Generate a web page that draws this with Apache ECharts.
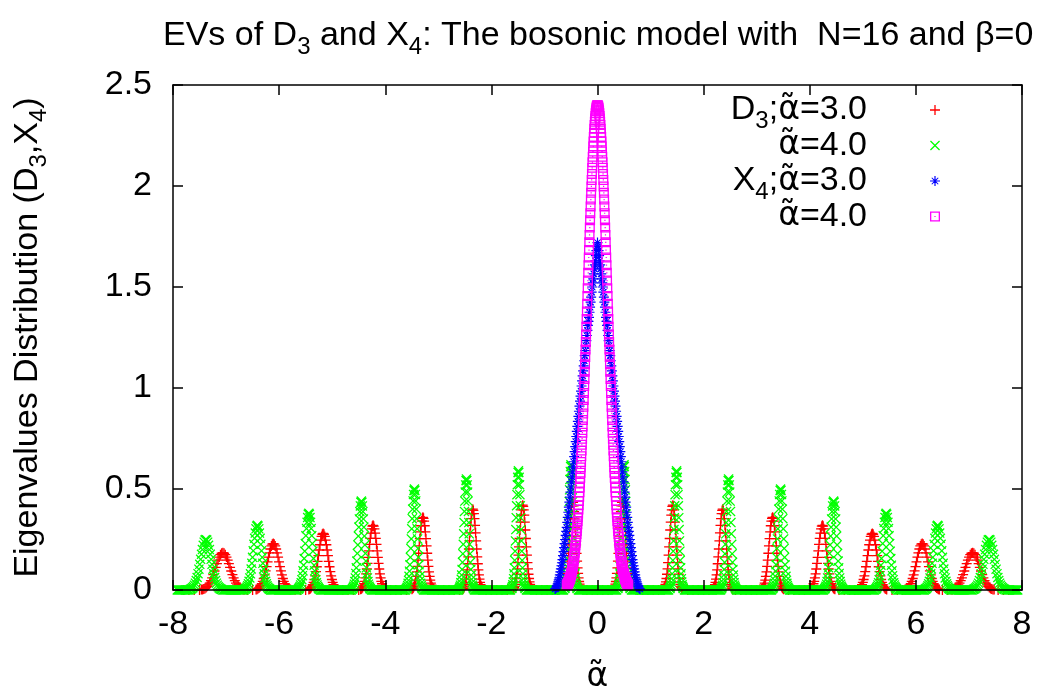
<!DOCTYPE html>
<html>
<head>
<meta charset="utf-8">
<script src="https://cdn.jsdelivr.net/npm/echarts@6/dist/echarts.min.js"></script>
<style>
html,body{margin:0;padding:0;background:#ffffff;}
#chart{width:1049px;height:696px;}
</style>
</head>
<body>
<div id="chart"></div>
<script>
// ---------- axis ticks ----------
const xTickValues = [-8, -6, -4, -2, 0, 2, 4, 6, 8];
const xTickLabels = ['-8', '-6', '-4', '-2', '0', '2', '4', '6', '8'];
const yTickValues = [0, 0.5, 1, 1.5, 2, 2.5];
const yTickLabels = ['0', '0.5', '1', '1.5', '2', '2.5'];

// ---------- series names ----------
const seriesNames = ['D3;a3', 'D3;a4', 'X4;a3', 'X4;a4'];

// ---------- D3, alpha~=3.0 (red +) : peaks [first x, x step, y values] ----------
const d3a3Peaks = [
  [-7.465, 0.0225, [0.002,0.003,0.005,0.008,0.012,0.018,0.025,0.034,0.046,0.060,0.076,0.094,0.112,0.131,0.148,0.163,0.175,0.182,0.185,0.182,0.175,0.163,0.148,0.131,0.112,0.094,0.076,0.060,0.046,0.034,0.025,0.018,0.012,0.008,0.005,0.003,0.002]],
  [-6.434, 0.018, [0.003,0.004,0.007,0.010,0.015,0.022,0.031,0.043,0.057,0.075,0.095,0.116,0.139,0.163,0.184,0.203,0.218,0.227,0.230,0.227,0.218,0.203,0.184,0.163,0.139,0.116,0.095,0.075,0.057,0.043,0.031,0.022,0.015,0.010,0.007,0.004,0.003]],
  [-5.440, 0.015, [0.003,0.005,0.008,0.012,0.018,0.027,0.038,0.052,0.070,0.091,0.115,0.142,0.170,0.198,0.224,0.247,0.265,0.276,0.280,0.276,0.265,0.247,0.224,0.198,0.170,0.142,0.115,0.091,0.070,0.052,0.038,0.027,0.018,0.012,0.008,0.005,0.003]],
  [-4.464, 0.013, [0.004,0.006,0.009,0.014,0.021,0.031,0.043,0.060,0.080,0.104,0.132,0.162,0.194,0.226,0.256,0.282,0.303,0.316,0.320,0.316,0.303,0.282,0.256,0.226,0.194,0.162,0.132,0.104,0.080,0.060,0.043,0.031,0.021,0.014,0.009,0.006,0.004]],
  [-3.497, 0.0115, [0.004,0.007,0.010,0.016,0.024,0.034,0.049,0.067,0.090,0.117,0.148,0.182,0.218,0.254,0.288,0.318,0.341,0.355,0.360,0.355,0.341,0.318,0.288,0.254,0.218,0.182,0.148,0.117,0.090,0.067,0.049,0.034,0.024,0.016,0.010,0.007,0.004]],
  [-2.539, 0.0105, [0.004,0.007,0.011,0.018,0.026,0.038,0.054,0.075,0.100,0.130,0.164,0.203,0.243,0.283,0.320,0.353,0.378,0.394,0.400,0.394,0.378,0.353,0.320,0.283,0.243,0.203,0.164,0.130,0.100,0.075,0.054,0.038,0.026,0.018,0.011,0.007,0.004]],
  [-1.590, 0.010, [0.005,0.008,0.012,0.018,0.028,0.040,0.057,0.078,0.105,0.136,0.173,0.213,0.255,0.297,0.336,0.371,0.397,0.414,0.420,0.414,0.397,0.371,0.336,0.297,0.255,0.213,0.173,0.136,0.105,0.078,0.057,0.040,0.028,0.018,0.012,0.008,0.005]],
  [-0.641, 0.0095, [0.005,0.008,0.013,0.019,0.029,0.042,0.060,0.082,0.110,0.143,0.181,0.223,0.267,0.311,0.352,0.388,0.416,0.434,0.440,0.434,0.416,0.388,0.352,0.311,0.267,0.223,0.181,0.143,0.110,0.082,0.060,0.042,0.029,0.019,0.013,0.008,0.005]],
  [0.299, 0.0095, [0.005,0.008,0.013,0.019,0.029,0.042,0.060,0.082,0.110,0.143,0.181,0.223,0.267,0.311,0.352,0.388,0.416,0.434,0.440,0.434,0.416,0.388,0.352,0.311,0.267,0.223,0.181,0.143,0.110,0.082,0.060,0.042,0.029,0.019,0.013,0.008,0.005]],
  [1.240, 0.010, [0.005,0.008,0.012,0.018,0.028,0.040,0.057,0.078,0.105,0.136,0.173,0.213,0.255,0.297,0.336,0.371,0.397,0.414,0.420,0.414,0.397,0.371,0.336,0.297,0.255,0.213,0.173,0.136,0.105,0.078,0.057,0.040,0.028,0.018,0.012,0.008,0.005]],
  [2.171, 0.0105, [0.004,0.007,0.011,0.018,0.026,0.038,0.054,0.075,0.100,0.130,0.164,0.203,0.243,0.283,0.320,0.353,0.378,0.394,0.400,0.394,0.378,0.353,0.320,0.283,0.243,0.203,0.164,0.130,0.100,0.075,0.054,0.038,0.026,0.018,0.011,0.007,0.004]],
  [3.093, 0.0115, [0.004,0.007,0.010,0.016,0.024,0.034,0.049,0.067,0.090,0.117,0.148,0.182,0.218,0.254,0.288,0.318,0.341,0.355,0.360,0.355,0.341,0.318,0.288,0.254,0.218,0.182,0.148,0.117,0.090,0.067,0.049,0.034,0.024,0.016,0.010,0.007,0.004]],
  [4.006, 0.013, [0.004,0.006,0.009,0.014,0.021,0.031,0.043,0.060,0.080,0.104,0.132,0.162,0.194,0.226,0.256,0.282,0.303,0.316,0.320,0.316,0.303,0.282,0.256,0.226,0.194,0.162,0.132,0.104,0.080,0.060,0.043,0.031,0.021,0.014,0.009,0.006,0.004]],
  [4.910, 0.015, [0.003,0.005,0.008,0.012,0.018,0.027,0.038,0.052,0.070,0.091,0.115,0.142,0.170,0.198,0.224,0.247,0.265,0.276,0.280,0.276,0.265,0.247,0.224,0.198,0.170,0.142,0.115,0.091,0.070,0.052,0.038,0.027,0.018,0.012,0.008,0.005,0.003]],
  [5.796, 0.018, [0.003,0.004,0.007,0.010,0.015,0.022,0.031,0.043,0.057,0.075,0.095,0.116,0.139,0.163,0.184,0.203,0.218,0.227,0.230,0.227,0.218,0.203,0.184,0.163,0.139,0.116,0.095,0.075,0.057,0.043,0.031,0.022,0.015,0.010,0.007,0.004,0.003]],
  [6.665, 0.0225, [0.002,0.003,0.005,0.008,0.012,0.018,0.025,0.034,0.046,0.060,0.076,0.094,0.112,0.131,0.148,0.163,0.175,0.182,0.185,0.182,0.175,0.163,0.148,0.131,0.112,0.094,0.076,0.060,0.046,0.034,0.025,0.018,0.012,0.008,0.005,0.003,0.002]]
];
// x positions where D3 (alpha~=3.0) is zero between the peaks
const d3a3ZeroX = [-7.8,-7.7,-7.6,-7.5,-6.6,-6.5,-5.7,-5.6,-5.5,-4.8,-4.7,-4.6,-4.5,-3.9,-3.8,-3.7,-3.6,
  -3.0,-2.9,-2.8,-2.7,-2.6,-2.1,-2.0,-1.9,-1.8,-1.7,-1.15,-1.05,-0.95,-0.85,-0.75,-0.2,-0.1,0,0.1,0.2,
  0.75,0.85,0.95,1.05,1.15,1.7,1.8,1.9,2.0,2.1,2.6,2.7,2.8,2.9,3.0,3.6,3.7,3.8,3.9,4.55,4.65,4.75,4.85,
  5.55,5.65,5.75,6.5,6.6,7.55,7.65,7.75];

// ---------- D3, alpha~=4.0 (green x) ----------
const d3a4Peaks = [
  [-7.677, 0.0165, [0.003,0.005,0.007,0.011,0.016,0.024,0.034,0.047,0.062,0.081,0.103,0.127,0.152,0.177,0.200,0.221,0.237,0.247,0.250,0.247,0.237,0.221,0.200,0.177,0.152,0.127,0.103,0.081,0.062,0.047,0.034,0.024,0.016,0.011,0.007,0.005,0.003]],
  [-6.644, 0.013, [0.004,0.006,0.009,0.014,0.021,0.031,0.043,0.060,0.080,0.104,0.132,0.162,0.194,0.226,0.256,0.282,0.303,0.316,0.320,0.316,0.303,0.282,0.256,0.226,0.194,0.162,0.132,0.104,0.080,0.060,0.043,0.031,0.021,0.014,0.009,0.006,0.004]],
  [-5.638, 0.011, [0.004,0.007,0.011,0.017,0.025,0.036,0.051,0.071,0.095,0.123,0.156,0.192,0.230,0.269,0.304,0.335,0.359,0.375,0.380,0.375,0.359,0.335,0.304,0.269,0.230,0.192,0.156,0.123,0.095,0.071,0.051,0.036,0.025,0.017,0.011,0.007,0.004]],
  [-4.621, 0.0095, [0.005,0.008,0.013,0.019,0.029,0.042,0.060,0.082,0.110,0.143,0.181,0.223,0.267,0.311,0.352,0.388,0.416,0.434,0.440,0.434,0.416,0.388,0.352,0.311,0.267,0.223,0.181,0.143,0.110,0.082,0.060,0.042,0.029,0.019,0.013,0.008,0.005]],
  [-3.603, 0.0085, [0.006,0.009,0.014,0.022,0.033,0.048,0.068,0.093,0.125,0.162,0.206,0.253,0.303,0.353,0.400,0.441,0.473,0.493,0.500,0.493,0.473,0.441,0.400,0.353,0.303,0.253,0.206,0.162,0.125,0.093,0.068,0.048,0.033,0.022,0.014,0.009,0.006]],
  [-2.605, 0.0075, [0.006,0.010,0.016,0.024,0.036,0.053,0.074,0.102,0.137,0.179,0.226,0.278,0.334,0.389,0.440,0.485,0.520,0.542,0.550,0.542,0.520,0.485,0.440,0.389,0.334,0.278,0.226,0.179,0.137,0.102,0.074,0.053,0.036,0.024,0.016,0.010,0.006]],
  [-1.616, 0.007, [0.007,0.011,0.017,0.026,0.039,0.056,0.080,0.110,0.147,0.192,0.243,0.299,0.358,0.417,0.472,0.521,0.558,0.582,0.590,0.582,0.558,0.521,0.472,0.417,0.358,0.299,0.243,0.192,0.147,0.110,0.080,0.056,0.039,0.026,0.017,0.011,0.007]],
  [-0.617, 0.0065, [0.007,0.011,0.018,0.027,0.041,0.059,0.084,0.116,0.155,0.201,0.255,0.314,0.376,0.438,0.496,0.547,0.587,0.611,0.620,0.611,0.587,0.547,0.496,0.438,0.376,0.314,0.255,0.201,0.155,0.116,0.084,0.059,0.041,0.027,0.018,0.011,0.007]],
  [0.383, 0.0065, [0.007,0.011,0.018,0.027,0.041,0.059,0.084,0.116,0.155,0.201,0.255,0.314,0.376,0.438,0.496,0.547,0.587,0.611,0.620,0.611,0.587,0.547,0.496,0.438,0.376,0.314,0.255,0.201,0.155,0.116,0.084,0.059,0.041,0.027,0.018,0.011,0.007]],
  [1.364, 0.007, [0.007,0.011,0.017,0.026,0.039,0.056,0.080,0.110,0.147,0.192,0.243,0.299,0.358,0.417,0.472,0.521,0.558,0.582,0.590,0.582,0.558,0.521,0.472,0.417,0.358,0.299,0.243,0.192,0.147,0.110,0.080,0.056,0.039,0.026,0.017,0.011,0.007]],
  [2.335, 0.0075, [0.006,0.010,0.016,0.024,0.036,0.053,0.074,0.102,0.137,0.179,0.226,0.278,0.334,0.389,0.440,0.485,0.520,0.542,0.550,0.542,0.520,0.485,0.440,0.389,0.334,0.278,0.226,0.179,0.137,0.102,0.074,0.053,0.036,0.024,0.016,0.010,0.006]],
  [3.297, 0.0085, [0.006,0.009,0.014,0.022,0.033,0.048,0.068,0.093,0.125,0.162,0.206,0.253,0.303,0.353,0.400,0.441,0.473,0.493,0.500,0.493,0.473,0.441,0.400,0.353,0.303,0.253,0.206,0.162,0.125,0.093,0.068,0.048,0.033,0.022,0.014,0.009,0.006]],
  [4.279, 0.0095, [0.005,0.008,0.013,0.019,0.029,0.042,0.060,0.082,0.110,0.143,0.181,0.223,0.267,0.311,0.352,0.388,0.416,0.434,0.440,0.434,0.416,0.388,0.352,0.311,0.267,0.223,0.181,0.143,0.110,0.082,0.060,0.042,0.029,0.019,0.013,0.008,0.005]],
  [5.242, 0.011, [0.004,0.007,0.011,0.017,0.025,0.036,0.051,0.071,0.095,0.123,0.156,0.192,0.230,0.269,0.304,0.335,0.359,0.375,0.380,0.375,0.359,0.335,0.304,0.269,0.230,0.192,0.156,0.123,0.095,0.071,0.051,0.036,0.025,0.017,0.011,0.007,0.004]],
  [6.176, 0.013, [0.004,0.006,0.009,0.014,0.021,0.031,0.043,0.060,0.080,0.104,0.132,0.162,0.194,0.226,0.256,0.282,0.303,0.316,0.320,0.316,0.303,0.282,0.256,0.226,0.194,0.162,0.132,0.104,0.080,0.060,0.043,0.031,0.021,0.014,0.009,0.006,0.004]],
  [7.083, 0.0165, [0.003,0.005,0.007,0.011,0.016,0.024,0.034,0.047,0.062,0.081,0.103,0.127,0.152,0.177,0.200,0.221,0.237,0.247,0.250,0.247,0.237,0.221,0.200,0.177,0.152,0.127,0.103,0.081,0.062,0.047,0.034,0.024,0.016,0.011,0.007,0.005,0.003]]
];
// zero-valued stretches of D3 (alpha~=4.0) between its peaks: [first x, x step, y values]
const d3a4ZeroRuns = [
  [-7.92, 0.02, [0,0,0,0,0,0,0,0,0,0, 0,0]],
  [-7.06, 0.02, [0,0,0,0,0,0,0,0,0,0, 0,0,0,0,0,0,0,0,0,0, 0]],
  [-6.16, 0.02, [0,0,0,0,0,0,0,0,0,0, 0,0,0,0,0,0,0,0,0,0, 0,0,0,0,0,0]],
  [-5.22, 0.02, [0,0,0,0,0,0,0,0,0,0, 0,0,0,0,0,0,0,0,0,0, 0,0,0,0,0,0,0,0,0,0]],
  [-4.26, 0.02, [0,0,0,0,0,0,0,0,0,0, 0,0,0,0,0,0,0,0,0,0, 0,0,0,0,0,0,0,0,0,0, 0,0,0]],
  [-3.28, 0.02, [0,0,0,0,0,0,0,0,0,0, 0,0,0,0,0,0,0,0,0,0, 0,0,0,0,0,0,0,0,0,0, 0,0,0,0]],
  [-2.32, 0.02, [0,0,0,0,0,0,0,0,0,0, 0,0,0,0,0,0,0,0,0,0, 0,0,0,0,0,0,0,0,0,0, 0,0,0,0,0]],
  [-1.34, 0.02, [0,0,0,0,0,0,0,0,0,0, 0,0,0,0,0,0,0,0,0,0, 0,0,0,0,0,0,0,0,0,0, 0,0,0,0,0,0]],
  [-0.36, 0.02, [0,0,0,0,0,0,0,0,0,0, 0,0,0,0,0,0,0,0,0,0, 0,0,0,0,0,0,0,0,0,0, 0,0,0,0,0,0,0]],
  [0.64, 0.02, [0,0,0,0,0,0,0,0,0,0, 0,0,0,0,0,0,0,0,0,0, 0,0,0,0,0,0,0,0,0,0, 0,0,0,0,0,0]],
  [1.64, 0.02, [0,0,0,0,0,0,0,0,0,0, 0,0,0,0,0,0,0,0,0,0, 0,0,0,0,0,0,0,0,0,0, 0,0,0,0,0]],
  [2.62, 0.02, [0,0,0,0,0,0,0,0,0,0, 0,0,0,0,0,0,0,0,0,0, 0,0,0,0,0,0,0,0,0,0, 0,0,0,0]],
  [3.62, 0.02, [0,0,0,0,0,0,0,0,0,0, 0,0,0,0,0,0,0,0,0,0, 0,0,0,0,0,0,0,0,0,0, 0,0,0]],
  [4.64, 0.02, [0,0,0,0,0,0,0,0,0,0, 0,0,0,0,0,0,0,0,0,0, 0,0,0,0,0,0,0,0,0,0]],
  [5.66, 0.02, [0,0,0,0,0,0,0,0,0,0, 0,0,0,0,0,0,0,0,0,0, 0,0,0,0,0,0]],
  [6.66, 0.02, [0,0,0,0,0,0,0,0,0,0, 0,0,0,0,0,0,0,0,0,0, 0]],
  [7.70, 0.02, [0,0,0,0,0,0,0,0,0,0, 0,0]]
];

// ---------- X4, alpha~=3.0 (blue *) ----------
const x4a3Peak = [-0.80, 0.01, [
  0.005,0.007,0.01,0.015,0.02,0.03,0.04,0.05,0.06,0.075,0.09,0.105,0.12,0.135,0.15,0.17,0.19,0.21,0.23,0.25,
  0.27,0.29,0.31,0.335,0.36,0.385,0.41,0.435,0.46,0.485,0.51,0.535,0.56,0.585,0.61,0.635,0.66,0.685,0.71,0.735,
  0.76,0.785,0.81,0.835,0.86,0.885,0.91,0.935,0.96,0.985,1.01,1.035,1.06,1.085,1.11,1.135,1.16,1.185,1.21,1.235,
  1.26,1.285,1.31,1.33,1.35,1.375,1.40,1.425,1.45,1.475,1.50,1.52,1.54,1.565,1.59,1.61,1.63,1.655,1.68,1.70,1.72,
  1.70,1.68,1.655,1.63,1.61,1.59,1.565,1.54,1.52,1.50,1.475,1.45,1.425,1.40,1.375,1.35,1.33,1.31,1.285,1.26,
  1.235,1.21,1.185,1.16,1.135,1.11,1.085,1.06,1.035,1.01,0.985,0.96,0.935,0.91,0.885,0.86,0.835,0.81,0.785,0.76,
  0.735,0.71,0.685,0.66,0.635,0.61,0.585,0.56,0.535,0.51,0.485,0.46,0.435,0.41,0.385,0.36,0.335,0.31,0.29,0.27,
  0.25,0.23,0.21,0.19,0.17,0.15,0.135,0.12,0.105,0.09,0.075,0.06,0.05,0.04,0.03,0.02,0.015,0.01,0.007,0.005]];

// ---------- X4, alpha~=4.0 (magenta squares) ----------
const x4a4Peak = [-0.58, 0.005, [
  0.023,0.025,0.027,0.029,0.031,0.034,0.036,0.039,0.042,0.046,0.049,0.053,0.057,0.061,0.066,0.070,0.075,0.081,0.086,0.092,
  0.099,0.105,0.113,0.120,0.128,0.136,0.145,0.155,0.164,0.175,0.185,0.197,0.209,0.221,0.234,0.248,0.262,0.277,0.292,0.308,
  0.325,0.342,0.360,0.379,0.399,0.419,0.440,0.462,0.484,0.507,0.531,0.556,0.581,0.607,0.634,0.662,0.690,0.719,0.749,0.779,
  0.810,0.842,0.874,0.907,0.941,0.975,1.010,1.045,1.081,1.117,1.153,1.190,1.228,1.265,1.303,1.341,1.379,1.417,1.456,1.494,
  1.532,1.570,1.608,1.646,1.683,1.721,1.758,1.794,1.830,1.865,1.899,1.933,1.966,1.998,2.030,2.060,2.090,2.118,2.145,2.171,
  2.196,2.220,2.243,2.264,2.283,2.302,2.318,2.334,2.347,2.360,2.370,2.379,2.387,2.393,2.397,2.399,2.400,
  2.399,2.397,2.393,2.387,2.379,2.370,2.360,2.347,2.334,2.318,2.302,2.283,2.264,2.243,2.220,2.196,
  2.171,2.145,2.118,2.090,2.060,2.030,1.998,1.966,1.933,1.899,1.865,1.830,1.794,1.758,1.721,1.683,1.646,1.608,1.570,1.532,
  1.494,1.456,1.417,1.379,1.341,1.303,1.265,1.228,1.190,1.153,1.117,1.081,1.045,1.010,0.975,0.941,0.907,0.874,0.842,0.810,
  0.779,0.749,0.719,0.690,0.662,0.634,0.607,0.581,0.556,0.531,0.507,0.484,0.462,0.440,0.419,0.399,0.379,0.360,0.342,0.325,
  0.308,0.292,0.277,0.262,0.248,0.234,0.221,0.209,0.197,0.185,0.175,0.164,0.155,0.145,0.136,0.128,0.120,0.113,0.105,0.099,
  0.092,0.086,0.081,0.075,0.070,0.066,0.061,0.057,0.053,0.049,0.046,0.042,0.039,0.036,0.034,0.031,0.029,0.027,0.025,0.023]];

// ---------- build [x, y] points ----------
function segPoints(seg) {
  const x0 = seg[0], dx = seg[1], ys = seg[2];
  return ys.map((y, i) => [Math.round((x0 + i * dx) * 10000) / 10000, y]);
}
function buildData(segments, zeroXs) {
  let out = [];
  segments.forEach(p => { out = out.concat(segPoints(p)); });
  (zeroXs || []).forEach(x => out.push([x, 0]));
  return out;
}

const FONT = "'Liberation Sans', Arial, Helvetica, sans-serif";
const GREEK = "'DejaVu Sans', 'Liberation Sans', sans-serif";
const PLUS = 'path://M4.35,0H5.65V4.35H10V5.65H5.65V10H4.35V5.65H0V4.35H4.35Z';
const CROSS = 'path://M0,0.9L0.9,0L5,4.1L9.1,0L10,0.9L5.9,5L10,9.1L9.1,10L5,5.9L0.9,10L0,9.1L4.1,5Z';
const STAR = 'path://M4.4,0H5.6V4.4H10V5.6H5.6V10H4.4V5.6H0V4.4H4.4Z M1.4,2.1L2.1,1.4L5,4.3L7.9,1.4L8.6,2.1L5.7,5L8.6,7.9L7.9,8.6L5,5.7L2.1,8.6L1.4,7.9L4.3,5Z';
const BOX = 'path://M0,0H10V10H0Z M1.3,1.3V8.7H8.7V1.3Z M4.4,4.4H5.6V5.6H4.4Z';
const symbols = [PLUS, CROSS, STAR, BOX];
const colors = ['#ff0000', '#00ff00', '#0000ff', '#ff00ff'];
const seriesData = [
  buildData(d3a3Peaks, d3a3ZeroX),
  buildData(d3a4Peaks.concat(d3a4ZeroRuns), []),
  buildData([x4a3Peak], []),
  buildData([x4a4Peak], [])
];

// rich text: t = normal, s = subscript (lowered), a = alpha with tilde, p = gap before legend sample
function richSet(alignRight) {
  const r = {
    t: { fontSize: 34, fontFamily: FONT, color: '#000', lineHeight: 35 },
    s: { fontSize: 24, fontFamily: FONT, color: '#000', lineHeight: 12, height: 12, verticalAlign: 'bottom' },
    a: { fontSize: 33, fontFamily: GREEK, color: '#000', lineHeight: 35 }
  };
  if (alignRight) {
    r.t.align = 'right'; r.s.align = 'right'; r.a.align = 'right';
    r.p = { fontSize: 34, fontFamily: FONT, width: 58, align: 'right', lineHeight: 35 };
  }
  return r;
}

const AT = '\u03b1\u0303';
const legendTexts = {
  'D3;a3': '{t|D}{s|3}{t|;}{a|' + AT + '}{t|=3.0}{p| }',
  'D3;a4': '{s| }{a|' + AT + '}{t|=4.0}{p| }',
  'X4;a3': '{t|X}{s|4}{t|;}{a|' + AT + '}{t|=3.0}{p| }',
  'X4;a4': '{s| }{a|' + AT + '}{t|=4.0}{p| }'
};

const axisLineStyle = { color: '#000', width: 1.5 };

const option = {
  animation: false,
  backgroundColor: '#ffffff',
  textStyle: { fontFamily: FONT },
  title: {
    text: '{t|EVs of D}{s|3}{t| and X}{s|4}{t|: The bosonic model with  N=16 and \u03b2=0}',
    left: 163, top: 18, padding: 0,
    textStyle: { fontSize: 34, fontWeight: 'normal', color: '#000', fontFamily: FONT, rich: richSet(false) }
  },
  legend: {
    orient: 'vertical', align: 'right', right: 109, top: 93, padding: 0,
    itemWidth: 10, itemHeight: 10, itemGap: -5,
    selectedMode: false,
    data: seriesNames.map((n, i) => ({ name: n, icon: symbols[i] })),
    formatter: name => legendTexts[name],
    textStyle: { fontSize: 34, color: '#000', fontFamily: FONT, width: 230, rich: richSet(true) }
  },
  grid: { left: 173, right: 27, top: 85, bottom: 106, containLabel: false, outerBoundsMode: 'none' },
  xAxis: [
    {
      type: 'value', position: 'bottom', min: -8, max: 8, interval: 2, z: 10,
      name: '{a|' + AT + '}', nameLocation: 'middle', nameGap: 70, nameMoveOverlap: false,
      nameTextStyle: { fontSize: 34, color: '#000', fontFamily: FONT, rich: richSet(false) },
      axisLine: { show: true, onZero: false, lineStyle: axisLineStyle },
      axisTick: { show: true, inside: true, length: 10, lineStyle: axisLineStyle },
      axisLabel: {
        show: true, margin: 18, fontSize: 34, color: '#000', fontFamily: FONT,
        showMinLabel: true, showMaxLabel: true,
        formatter: v => { const i = xTickValues.indexOf(v); return i >= 0 ? xTickLabels[i] : ''; }
      },
      splitLine: { show: false }
    },
    {
      type: 'value', position: 'top', min: -8, max: 8, interval: 2, z: 10,
      axisLine: { show: true, onZero: false, lineStyle: axisLineStyle },
      axisTick: { show: true, inside: true, length: 10, lineStyle: axisLineStyle },
      axisLabel: { show: false }, splitLine: { show: false }
    }
  ],
  yAxis: [
    {
      type: 'value', position: 'left', min: 0, max: 2.5, interval: 0.5, z: 10,
      name: '{t|Eigenvalues Distribution (D}{s|3}{t|,X}{s|4}{t|)}',
      nameLocation: 'middle', nameRotate: 90, nameGap: 128, nameMoveOverlap: false,
      nameTextStyle: { fontSize: 34, color: '#000', fontFamily: FONT, rich: richSet(false) },
      axisLine: { show: true, onZero: false, lineStyle: axisLineStyle },
      axisTick: { show: true, inside: true, length: 10, lineStyle: axisLineStyle },
      axisLabel: {
        show: true, margin: 21, fontSize: 34, color: '#000', fontFamily: FONT,
        showMinLabel: true, showMaxLabel: true,
        formatter: v => { const i = yTickValues.findIndex(t => Math.abs(t - v) < 1e-9); return i >= 0 ? yTickLabels[i] : ''; }
      },
      splitLine: { show: false }
    },
    {
      type: 'value', position: 'right', min: 0, max: 2.5, interval: 0.5, z: 10,
      axisLine: { show: true, onZero: false, lineStyle: axisLineStyle },
      axisTick: { show: true, inside: true, length: 10, lineStyle: axisLineStyle },
      axisLabel: { show: false }, splitLine: { show: false }
    }
  ],
  series: seriesNames.map((n, i) => ({
    type: 'scatter', name: n, xAxisIndex: 0, yAxisIndex: 0,
    data: seriesData[i], symbol: symbols[i], symbolSize: 10,
    itemStyle: { color: colors[i], opacity: 1, borderWidth: 0 },
    clip: false, silent: true, emphasis: { disabled: true }, z: 2 + i * 0.01
  }))
};

const chart = echarts.init(document.getElementById('chart'), null, { renderer: 'canvas' });
chart.setOption(option);
</script>
</body>
</html>
